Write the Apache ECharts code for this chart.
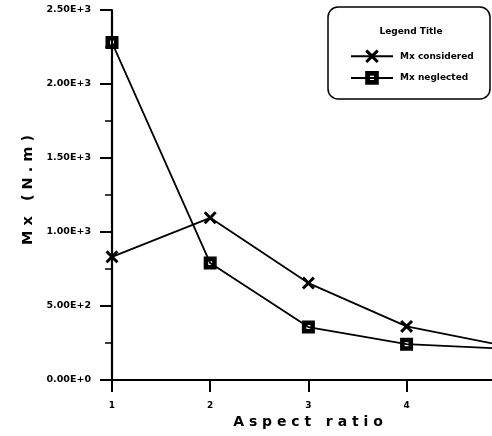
<!DOCTYPE html>
<html>
<head>
<meta charset="utf-8">
<script src="https://cdn.jsdelivr.net/npm/echarts@6/dist/echarts.min.js"></script>
<style>html,body{margin:0;padding:0;background:#fff}#c{width:492px;height:436px}</style>
</head>
<body>
<div id="c"></div>
<script>
var aspectRatio = [1, 2, 3, 4, 5];
var mxConsidered = [832, 1096, 655, 362, 230];
var mxNeglected = [2280, 790, 358, 242, 211];
var yTickLabels = ['0.00E+0', '5.00E+2', '1.00E+3', '1.50E+3', '2.00E+3', '2.50E+3'];
var xTickLabels = ['1', '2', '3', '4'];
var seriesNames = ['Mx considered', 'Mx neglected'];

var FONT = '"DejaVu Sans", Verdana, sans-serif';
var xSym = 'path://M0,1.6 L1.6,0 L5,3.4 L8.4,0 L10,1.6 L6.6,5 L10,8.4 L8.4,10 L5,6.6 L1.6,10 L0,8.4 L3.4,5 Z';
var sqSym = 'path://M0,0 L10,0 L10,10 L0,10 Z M3.5,3.5 L3.5,6.5 L6.5,6.5 L6.5,3.5 Z';

function pairs(vals) { return aspectRatio.map(function (x, i) { return [x, vals[i]]; }); }

var chart = echarts.init(document.getElementById('c'));
chart.setOption({
  animation: false,
  backgroundColor: '#fff',
  grid: { left: 112, top: 10, right: 0, bottom: 56 },
  xAxis: {
    type: 'value', min: 1, max: 4.87, interval: 1,
    name: 'A s p e c t   r a t i o', nameLocation: 'middle', nameGap: 27,
    nameTextStyle: { fontFamily: FONT, fontWeight: 'bold', fontSize: 14, color: '#000', padding: [0, 0, 0, 12] },
    axisLine: { lineStyle: { color: '#000', width: 2 } },
    axisTick: { inside: false, length: 12, lineStyle: { color: '#000', width: 2 } },
    axisLabel: {
      fontFamily: FONT, fontWeight: 'bold', fontSize: 9, color: '#000', margin: 21, showMaxLabel: false,
      formatter: function (v) { var i = Math.round(v) - 1; return (Math.abs(v - Math.round(v)) < 1e-6 && xTickLabels[i]) ? xTickLabels[i] : ''; }
    },
    splitLine: { show: false }
  },
  yAxis: {
    type: 'value', min: 0, max: 2500, interval: 500,
    name: 'M x   ( N . m )', nameLocation: 'middle', nameGap: 75,
    nameTextStyle: { fontFamily: FONT, fontWeight: 'bold', fontSize: 14.5, color: '#000', padding: [0, 0, 0, 10] },
    axisLine: { lineStyle: { color: '#000', width: 2.2 } },
    axisTick: { inside: false, length: 12, lineStyle: { color: '#000', width: 2 } },
    minorTick: { show: true, splitNumber: 2, length: 7, lineStyle: { color: '#000', width: 1.5 } },
    axisLabel: {
      fontFamily: FONT, fontWeight: 'bold', fontSize: 9.5, color: '#000', margin: 21,
      formatter: function (v) { return yTickLabels[Math.round(v / 500)]; }
    },
    splitLine: { show: false }
  },
  legend: {
    orient: 'vertical', left: 345, top: 44.5, itemGap: 8, itemWidth: 42, itemHeight: 17,
    textStyle: { fontFamily: FONT, fontWeight: 'bold', fontSize: 9, color: '#000', padding: [0, 0, 0, 2] },
    data: seriesNames
  },
  graphic: [
    { type: 'rect', shape: { x: 328, y: 7, width: 162, height: 92, r: 10 }, style: { fill: 'none', stroke: '#000', lineWidth: 1.5 } },
    { type: 'text', x: 411, y: 32, style: { text: 'Legend Title', font: 'bold 9px ' + FONT, fill: '#000', align: 'center', verticalAlign: 'middle' } }
  ],
  series: [
    {
      name: seriesNames[0], type: 'line', data: pairs(mxConsidered), clip: true,
      symbol: xSym, symbolSize: 13, showAllSymbol: true,
      lineStyle: { color: '#000', width: 1.8 }, itemStyle: { color: '#000' }
    },
    {
      name: seriesNames[1], type: 'line', data: pairs(mxNeglected), clip: true,
      symbol: sqSym, symbolSize: 13, showAllSymbol: true,
      lineStyle: { color: '#000', width: 1.8 }, itemStyle: { color: '#000' }
    }
  ]
});
</script>
</body>
</html>
